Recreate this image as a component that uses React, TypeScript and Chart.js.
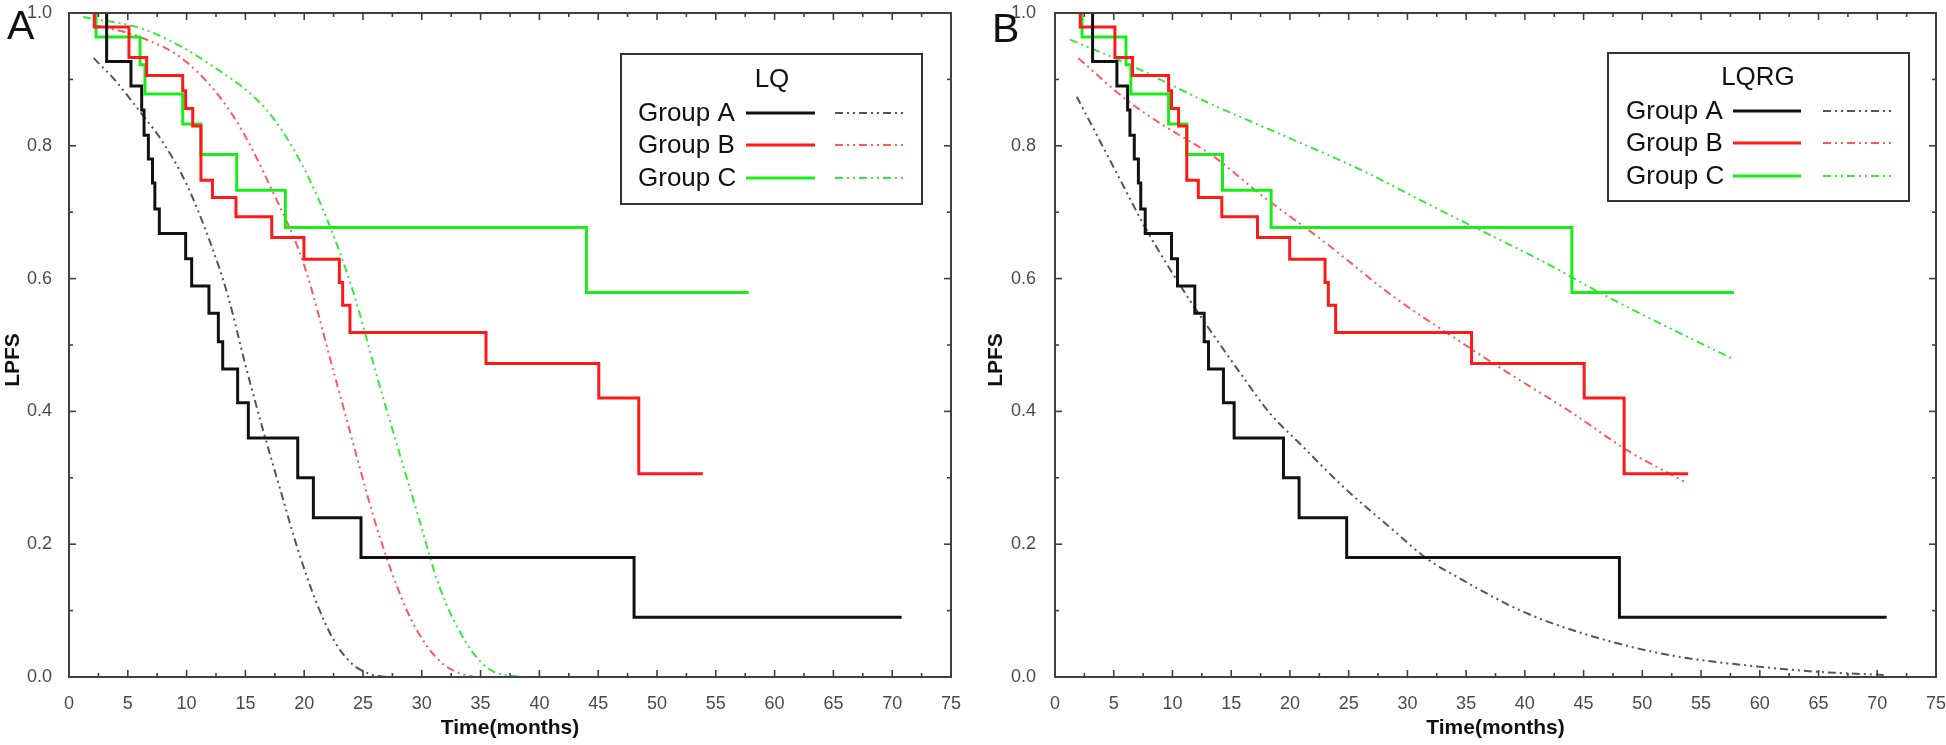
import React, { useEffect, useRef } from 'react';
import { Chart, registerables } from 'chart.js';

Chart.register(...registerables);

const FONT = '"Liberation Sans", Arial, Helvetica, sans-serif';

// ---------- axis ticks ----------
const X_MIN = 0;
const X_MAX = 75;
const X_MAJOR = 5;
const X_MINOR = 2.5;
const Y_MIN = 0;
const Y_MAX = 1;
const Y_MAJOR = 0.2;
const Y_MINOR = 0.1;
const yTickLabels = ['0.0', '0.2', '0.4', '0.6', '0.8', '1.0'];

const groupNames = ['Group A', 'Group B', 'Group C'];
const solidColors = ['#111111', '#ff1a1a', '#1aee1a'];
const dashColors = ['#555555', '#ff5a5a', '#3ae83a'];

// ---------- Kaplan-Meier (observed) step data ----------
const groupAStart = 3.2;
const groupATimes = [3.2, 5.27, 6.18, 6.38, 6.75, 7.1, 7.3, 7.68, 9.92, 10.43, 11.9, 12.7, 13.07, 14.34, 15.25, 19.45, 20.78, 24.83, 48.05];
const groupASurv = [0.927, 0.890, 0.854, 0.816, 0.780, 0.744, 0.705, 0.668, 0.630, 0.589, 0.548, 0.505, 0.464, 0.413, 0.360, 0.300, 0.240, 0.180, 0.090];
const groupAEnd = 70.8;

const groupBStart = 2.15;
const groupBTimes = [2.15, 5.1, 6.6, 9.67, 9.92, 10.52, 11.22, 12.2, 14.2, 17.24, 19.98, 22.99, 23.27, 23.89, 35.46, 45.05, 48.45];
const groupBSurv = [0.979, 0.933, 0.906, 0.883, 0.856, 0.830, 0.748, 0.722, 0.693, 0.662, 0.629, 0.594, 0.560, 0.519, 0.472, 0.420, 0.306];
const groupBEnd = 53.9;

const groupCStart = 2.3;
const groupCTimes = [2.3, 6.04, 6.46, 9.67, 11.22, 14.26, 18.4, 44.0];
const groupCSurv = [0.964, 0.922, 0.878, 0.833, 0.787, 0.733, 0.677, 0.579];
const groupCEnd = 57.8;

// ---------- LQ model curves (panel A) ----------
const lqTimesA = [2.1, 4, 6, 8, 10, 12, 13.5, 15, 16.5, 18, 19.5, 21, 22.5, 24, 25.5, 27];
const lqSurvA = [0.932, 0.897, 0.852, 0.805, 0.742, 0.655, 0.575, 0.47, 0.372, 0.28, 0.19, 0.114, 0.056, 0.021, 0.005, 0.0];
const lqTimesB = [2.15, 6, 10, 14, 17.4, 20, 22.5, 24.5, 26, 27.5, 29, 30.5, 32, 33.5, 34.5];
const lqSurvB = [0.982, 0.964, 0.926, 0.844, 0.728, 0.62, 0.46, 0.33, 0.235, 0.155, 0.09, 0.045, 0.017, 0.004, 0.0];
const lqTimesC = [1.2, 6.6, 12.3, 16.8, 19.6, 22.2, 24.2, 26.2, 28.1, 29.8, 31.5, 33.8, 35.8, 38.5];
const lqSurvC = [0.994, 0.974, 0.919, 0.854, 0.779, 0.678, 0.578, 0.452, 0.337, 0.236, 0.136, 0.051, 0.011, 0.0];

// ---------- LQRG model curves (panel B) ----------
const lqrgTimesA = [1.85, 5.25, 7.8, 10.36, 12.6, 16.0, 18.3, 21.1, 24.5, 28.8, 31.6, 34.3, 39.9, 45.8, 52.6, 59.7, 64.8, 70.6];
const lqrgSurvA = [0.874, 0.759, 0.673, 0.598, 0.538, 0.452, 0.397, 0.347, 0.287, 0.221, 0.179, 0.150, 0.098, 0.061, 0.032, 0.016, 0.008, 0.003];
const lqrgTimesB = [1.99, 6.1, 8.94, 13.5, 17.4, 23.1, 28.8, 33.9, 38.4, 44.1, 48.65, 53.7];
const lqrgSurvB = [0.932, 0.869, 0.834, 0.784, 0.728, 0.653, 0.573, 0.512, 0.46, 0.397, 0.342, 0.293];
const lqrgTimesC = [1.28, 6.1, 12.9, 20.3, 26.0, 32.8, 36.2, 41.3, 47.0, 52.6, 57.6];
const lqrgSurvC = [0.960, 0.924, 0.866, 0.809, 0.764, 0.703, 0.673, 0.628, 0.573, 0.523, 0.48];

// ---------- helpers ----------
function stepPoints(start: number, times: number[], surv: number[], end: number) {
  const pts: { x: number; y: number }[] = [{ x: start, y: 1 }];
  let prev = 1;
  for (let i = 0; i < times.length; i++) {
    pts.push({ x: times[i], y: prev });
    pts.push({ x: times[i], y: surv[i] });
    prev = surv[i];
  }
  pts.push({ x: end, y: prev });
  return pts;
}

function curvePoints(times: number[], surv: number[]) {
  return times.map((t, i) => ({ x: t, y: surv[i] }));
}

const AXIS_COLOR = '#404040';
const DASH = [8, 4, 2, 4, 2, 4];

const decorPlugin = {
  id: 'decor',
  afterDatasetsDraw(chart: any, _args: any, opts: any) {
    const { ctx, chartArea: ca, scales } = chart;
    const xs = scales.x;
    const ys = scales.y;
    ctx.save();
    // frame
    ctx.strokeStyle = AXIS_COLOR;
    ctx.lineWidth = 2;
    ctx.setLineDash([]);
    ctx.strokeRect(ca.left, ca.top, ca.right - ca.left, ca.bottom - ca.top);
    // ticks (inward, all four sides)
    ctx.lineWidth = 1.6;
    const seg = (x1: number, y1: number, x2: number, y2: number) => {
      ctx.beginPath();
      ctx.moveTo(x1, y1);
      ctx.lineTo(x2, y2);
      ctx.stroke();
    };
    const nx = Math.round((X_MAX - X_MIN) / X_MINOR);
    const perX = Math.round(X_MAJOR / X_MINOR);
    for (let i = 0; i <= nx; i++) {
      const p = xs.getPixelForValue(X_MIN + i * X_MINOR);
      const len = i % perX === 0 ? 7 : 4;
      seg(p, ca.bottom, p, ca.bottom - len);
      seg(p, ca.top, p, ca.top + len);
    }
    const ny = Math.round((Y_MAX - Y_MIN) / Y_MINOR);
    const perY = Math.round(Y_MAJOR / Y_MINOR);
    for (let i = 0; i <= ny; i++) {
      const p = ys.getPixelForValue(Y_MIN + i * Y_MINOR);
      const len = i % perY === 0 ? 7 : 4;
      seg(ca.left, p, ca.left + len, p);
      seg(ca.right, p, ca.right - len, p);
    }

    // panel letter
    ctx.fillStyle = '#111';
    ctx.font = `41px ${FONT}`;
    ctx.textAlign = 'left';
    ctx.textBaseline = 'alphabetic';
    ctx.fillText(opts.letter, opts.letterX, opts.letterY);

    // y axis title
    ctx.save();
    ctx.translate(opts.yTitleX, opts.yTitleY);
    ctx.rotate(-Math.PI / 2);
    ctx.font = `bold 21px ${FONT}`;
    ctx.textAlign = 'center';
    ctx.textBaseline = 'middle';
    ctx.fillText('LPFS', 0, 0);
    ctx.restore();

    // legend
    const lg = opts.legend;
    ctx.fillStyle = '#ffffff';
    ctx.fillRect(lg.x, lg.y, lg.w, lg.h);
    ctx.strokeStyle = '#333';
    ctx.lineWidth = 2;
    ctx.strokeRect(lg.x, lg.y, lg.w, lg.h);
    ctx.fillStyle = '#111';
    ctx.font = `26px ${FONT}`;
    ctx.textAlign = 'center';
    ctx.textBaseline = 'middle';
    ctx.fillText(lg.title, lg.titleX, lg.titleY);
    ctx.textAlign = 'left';
    for (let i = 0; i < groupNames.length; i++) {
      const yy = lg.rows[i];
      ctx.fillStyle = '#111';
      ctx.fillText(groupNames[i], lg.textX, yy + 1);
      ctx.setLineDash([]);
      ctx.strokeStyle = solidColors[i];
      ctx.lineWidth = 3;
      seg(lg.solid[0], yy, lg.solid[1], yy);
      ctx.setLineDash(DASH);
      ctx.strokeStyle = dashColors[i];
      ctx.lineWidth = 2;
      seg(lg.dash[0], yy, lg.dash[1], yy);
    }
    ctx.restore();
  },
};

function makeConfig(p: any) {
  const solids = [
    stepPoints(groupAStart, groupATimes, groupASurv, groupAEnd),
    stepPoints(groupBStart, groupBTimes, groupBSurv, groupBEnd),
    stepPoints(groupCStart, groupCTimes, groupCSurv, groupCEnd),
  ];
  const datasets: any[] = [];
  solids.forEach((d, i) => {
    datasets.push({
      label: groupNames[i],
      data: d,
      borderColor: solidColors[i],
      borderWidth: 3,
      pointRadius: 0,
      tension: 0,
      fill: false,
    });
  });
  p.curves.forEach((d: any, i: number) => {
    datasets.push({
      label: groupNames[i] + ' model',
      data: d,
      borderColor: dashColors[i],
      borderWidth: 2,
      borderDash: DASH,
      pointRadius: 0,
      cubicInterpolationMode: 'monotone',
      fill: false,
    });
  });
  return {
    type: 'line',
    data: { datasets },
    plugins: [decorPlugin],
    options: {
      responsive: false,
      maintainAspectRatio: false,
      animation: false,
      events: [],
      layout: { padding: { left: 0, right: p.padRight, top: 13, bottom: 0 } },
      plugins: {
        legend: { display: false },
        tooltip: { enabled: false },
        decor: p.decor,
      },
      scales: {
        x: {
          type: 'linear',
          min: X_MIN,
          max: X_MAX,
          grid: { display: false },
          border: { display: false },
          ticks: {
            stepSize: X_MAJOR,
            autoSkip: false,
            maxRotation: 0,
            padding: 8,
            color: '#4a4a4a',
            font: { size: 18, family: FONT },
          },
          title: {
            display: true,
            text: 'Time(months)',
            color: '#111',
            font: { size: 21, weight: 'bold', family: FONT },
            padding: { top: 0, bottom: 4 },
          },
          afterFit: (s: any) => {
            s.height = 68;
            s.paddingLeft = 0;
            s.paddingRight = 0;
          },
        },
        y: {
          type: 'linear',
          min: Y_MIN,
          max: Y_MAX,
          grid: { display: false },
          border: { display: false },
          ticks: {
            stepSize: Y_MAJOR,
            padding: p.yPad,
            color: '#4a4a4a',
            font: { size: 18, family: FONT },
            callback: (v: number) => yTickLabels[Math.round(v / Y_MAJOR)] ?? '',
          },
          afterFit: (s: any) => {
            s.width = p.yWidth;
            s.paddingTop = 0;
            s.paddingBottom = 0;
          },
        },
      },
    },
  };
}

const panelA = {
  padRight: 22,
  yWidth: 69,
  yPad: 9,
  curves: [curvePoints(lqTimesA, lqSurvA), curvePoints(lqTimesB, lqSurvB), curvePoints(lqTimesC, lqSurvC)],
  decor: {
    letter: 'A',
    letterX: 7,
    letterY: 39,
    yTitleX: 13,
    yTitleY: 360,
    legend: {
      title: 'LQ',
      x: 621, y: 54, w: 301, h: 150,
      titleX: 772, titleY: 80,
      textX: 638,
      rows: [113, 145, 178],
      solid: [746, 815],
      dash: [835, 903],
    },
  },
};

const panelB = {
  padRight: 10,
  yWidth: 82,
  yPad: 11,
  curves: [curvePoints(lqrgTimesA, lqrgSurvA), curvePoints(lqrgTimesB, lqrgSurvB), curvePoints(lqrgTimesC, lqrgSurvC)],
  decor: {
    letter: 'B',
    letterX: 19,
    letterY: 42,
    yTitleX: 23,
    yTitleY: 360,
    legend: {
      title: 'LQRG',
      x: 635, y: 53, w: 301, h: 148,
      titleX: 785, titleY: 78,
      textX: 653,
      rows: [111, 143, 176],
      solid: [760, 828],
      dash: [850, 918],
    },
  },
};

function Panel({ left, cfg }: { left: number; cfg: any }) {
  const ref = useRef<HTMLCanvasElement>(null);
  useEffect(() => {
    const chart = new Chart(ref.current as HTMLCanvasElement, makeConfig(cfg) as any);
    return () => chart.destroy();
  }, []);
  return (
    <canvas
      ref={ref}
      width={973}
      height={745}
      style={{ position: 'absolute', left, top: 0, width: 973, height: 745, display: 'block' }}
    />
  );
}

export default function App() {
  return (
    <div style={{ position: 'absolute', left: 0, top: 0, width: 1946, height: 745, background: '#ffffff', overflow: 'hidden' }}>
      <Panel left={0} cfg={panelA} />
      <Panel left={973} cfg={panelB} />
    </div>
  );
}
